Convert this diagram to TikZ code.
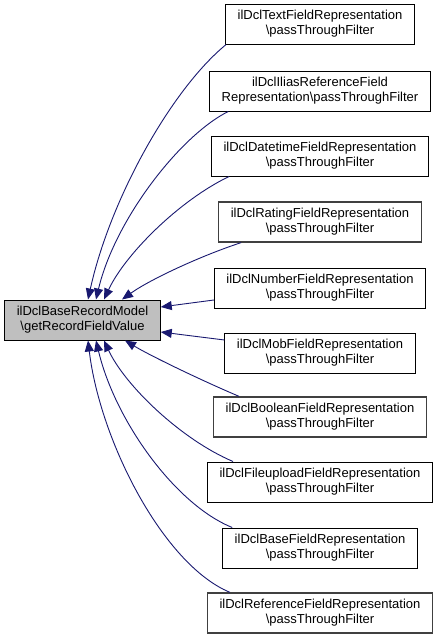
\documentclass[tikz,border=0pt]{standalone}
\usepackage{fontspec}
\setmainfont{Liberation Sans}
\usepackage{xcolor}
\usetikzlibrary{arrows.meta}

\definecolor{edgeblue}{HTML}{191970}
\definecolor{basefill}{HTML}{BFBFBF}
\definecolor{undocgray}{HTML}{404040}

\begin{document}
\begin{tikzpicture}[
    x=1pt, y=-1pt,
    box/.style={draw, align=center, minimum height=40pt, inner xsep=12pt, inner ysep=2pt,
      line width=1pt, font=\fontsize{13}{15}\selectfont},
    current/.style={box, fill=basefill},
    undoc/.style={box, draw=undocgray, line width=1.3pt},
    arr/.style={-{Triangle[length=11pt,width=9pt]}, edgeblue, line width=0.9pt}
  ]
    \useasboundingbox (0,0) rectangle (437,640);

    %% ---- Left: the called method ----
    \node[current] (base) at (82.5,320) {ilDclBaseRecordModel\\\textbackslash getRecordFieldValue};

    %% ---- Right column: callers ----
    \node[box]   (text)       at (320,24)  {ilDclTextFieldRepresentation\\\textbackslash passThroughFilter};
    \node[box]   (ilias)      at (320,91)  {ilDclIliasReferenceField\\Representation\textbackslash passThroughFilter};
    \node[box]   (datetime)   at (320,156) {ilDclDatetimeFieldRepresentation\\\textbackslash passThroughFilter};
    \node[undoc] (rating)     at (320,222) {ilDclRatingFieldRepresentation\\\textbackslash passThroughFilter};
    \node[box]   (number)     at (320,288) {ilDclNumberFieldRepresentation\\\textbackslash passThroughFilter};
    \node[box]   (mob)        at (320,353) {ilDclMobFieldRepresentation\\\textbackslash passThroughFilter};
    \node[undoc] (boolean)    at (320,417) {ilDclBooleanFieldRepresentation\\\textbackslash passThroughFilter};
    \node[box]   (fileupload) at (320,482) {ilDclFileuploadFieldRepresentation\\\textbackslash passThroughFilter};
    \node[box]   (basefield)  at (320,548) {ilDclBaseFieldRepresentation\\\textbackslash passThroughFilter};
    \node[undoc] (reference)  at (320,613) {ilDclReferenceFieldRepresentation\\\textbackslash passThroughFilter};

    %% ---- Calls into the top edge ----
    \draw[arr] ([xshift=1pt]text.south west) .. controls +(-55,45) and +(22,-100) .. ([xshift=5.5pt]base.north);
    \draw[arr] ([xshift=19pt]ilias.south west) .. controls +(-48,24) and +(19,-80) .. ([xshift=13.5pt]base.north);
    \draw[arr] ([xshift=18pt]datetime.south west) .. controls +(-50,24) and +(21,-45) .. ([xshift=21.5pt]base.north);
    \draw[arr] ([xshift=23pt]rating.south west) .. controls +(-40,13) and +(28,-20) .. ([xshift=39.5pt]base.north);

    %% ---- Calls into the right edge ----
    \draw[arr] ([yshift=-12pt]number.west) -- ([yshift=13pt]base.east);
    \draw[arr] ([yshift=13pt]mob.west) -- ([yshift=-12pt]base.east);

    %% ---- Calls into the bottom edge ----
    \draw[arr] ([xshift=26pt]boolean.north west) .. controls +(-40,-17) and +(25,15) .. ([xshift=42.5pt]base.south);
    \draw[arr] ([xshift=26pt]fileupload.north west) .. controls +(-52,-22) and +(21,45) .. ([xshift=21.5pt]base.south);
    \draw[arr] ([xshift=10pt]basefield.north west) .. controls +(-57,-23) and +(19,80) .. ([xshift=13.5pt]base.south);
    \draw[arr] ([xshift=23pt]reference.north west) .. controls +(-67,-28) and +(12,100) .. ([xshift=5.5pt]base.south);
\end{tikzpicture}
\end{document}
